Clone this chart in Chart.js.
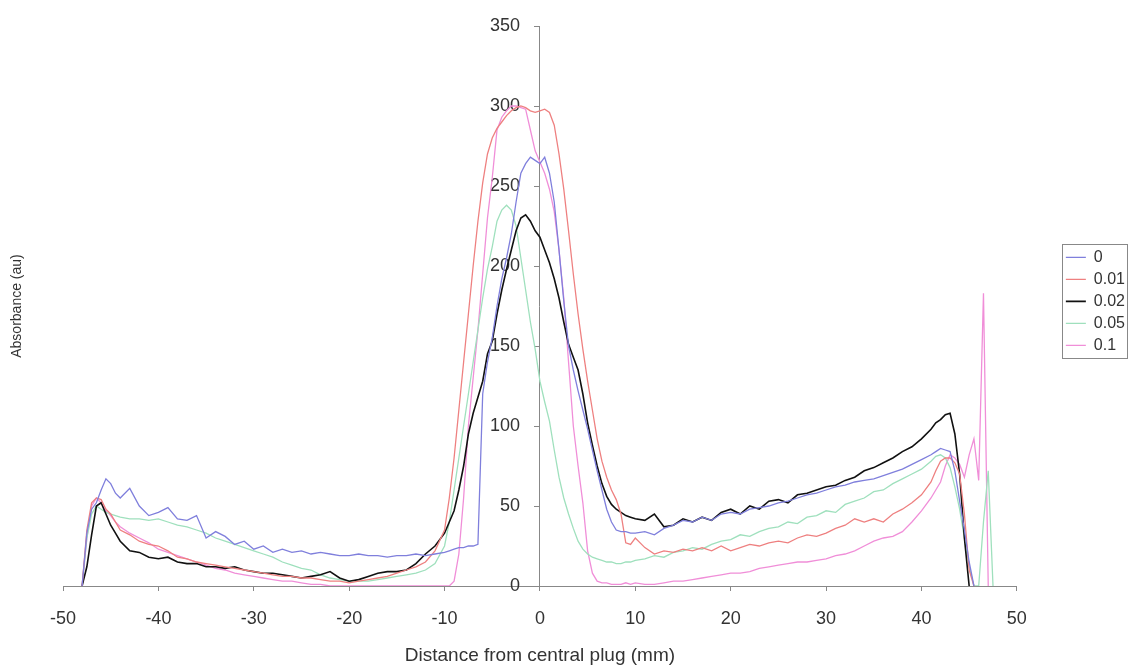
<!DOCTYPE html>
<html>
<head>
<meta charset="utf-8">
<title>Absorbance profile</title>
<script src="https://cdn.jsdelivr.net/npm/chart.js@4/dist/chart.umd.min.js"></script>
<style>
  body { margin: 0; background: #fff; }
  #wrap { width: 1135px; height: 668px; }
</style>
</head>
<body>
<div id="wrap"><canvas id="absChart" width="1135" height="668"></canvas></div>
<script>
// distance from central plug (mm) - finer steps near the edges and the central peak
const xs = [-48, -47.5, -47, -46.5, -46, -45.5, -45, -44.5, -44,
  -43, -42, -41, -40, -39, -38, -37, -36, -35, -34, -33, -32, -31, -30, -29, -28, -27, -26, -25, -24, -23, -22, -21, -20, -19, -18, -17, -16, -15, -14, -13, -12, -11,
  -10, -9.5, -9, -8.5, -8, -7.5, -7, -6.5, -6, -5.5, -5, -4.5, -4, -3.5, -3, -2.5, -2, -1.5, -1, -0.5, 0, 0.5, 1, 1.5, 2, 2.5, 3, 3.5, 4, 4.5, 5, 5.5, 6, 6.5, 7, 7.5, 8, 8.5, 9, 9.5, 10,
  11, 12, 13, 14, 15, 16, 17, 18, 19, 20, 21, 22, 23, 24, 25, 26, 27, 28, 29, 30, 31, 32, 33, 34, 35, 36, 37, 38, 39, 40, 41,
  41.5, 42, 42.5, 43, 43.5, 44, 44.5, 45, 45.5, 46, 46.5, 47, 47.5, 48];

const seriesNames = ['0', '0.01', '0.02', '0.05', '0.1'];

const abs0 = [0, 33, 48, 52, 60, 67, 64, 58, 55,
  61, 50, 44, 46, 49, 42, 41, 44, 30, 34, 31, 26, 28, 23, 25, 21, 23, 21, 22, 20, 21, 20, 19, 19, 20, 19, 19, 18, 19, 19, 20, 19, 20,
  21, 22, 23, 24, 24, 25, 25, 26, 120, 140, 155, 175, 192, 205, 220, 240, 258, 264, 268, 266, 264, 268, 258, 240, 210, 178, 150, 135, 122, 110, 98, 85, 72, 60, 48, 40, 35, 34, 34, 33, 33,
  34, 32, 36, 38, 41, 40, 43, 41, 45, 46, 45, 48, 49, 50, 52, 53, 55, 57, 58, 60, 62, 63, 65, 66, 67, 69, 71, 73, 76, 79, 82,
  84, 86, 85, 84, 72, 53, 35, 15, 0, null, null, null, null, null];

const abs001 = [0, 35, 52, 55, 54, 48, 45, 40, 35,
  32, 28, 26, 25, 22, 18, 17, 15, 14, 13, 12, 11, 10, 9, 8, 7, 6, 6, 5, 5, 4, 3, 3, 2, 3, 4, 5, 6, 8, 10, 12, 15, 22,
  35, 55, 80, 110, 140, 170, 200, 228, 252, 270, 280, 286, 290, 294, 297, 299, 300, 299, 297, 296, 297, 298, 296, 288, 270, 248, 222, 195, 170, 148, 128, 110, 92, 78, 68, 60, 54, 45, 27, 26, 30,
  24, 20, 22, 21, 23, 22, 24, 22, 25, 22, 24, 26, 25, 27, 28, 27, 30, 32, 31, 33, 36, 38, 42, 40, 42, 40, 45, 48, 52, 57, 65,
  72, 78, 80, 80, 77, 70, 45, 10, 0, null, null, null, null, null];

const abs002 = [0, 12, 32, 50, 52, 45, 38, 33, 28,
  22, 21, 18, 17, 18, 15, 14, 14, 12, 12, 11, 12, 10, 9, 8, 8, 7, 6, 5, 6, 7, 9, 5, 3, 4, 6, 8, 9, 9, 10, 14, 20, 25,
  33, 40, 47, 60, 75, 95, 108, 118, 128, 145, 153, 170, 185, 198, 210, 222, 230, 232, 228, 222, 218, 210, 202, 192, 180, 165, 151, 143, 135, 120, 102, 88, 75, 64, 56, 51, 48, 46, 44, 43, 42,
  41, 45, 37, 38, 42, 40, 43, 41, 46, 48, 45, 50, 48, 53, 54, 52, 57, 58, 60, 62, 63, 66, 68, 72, 74, 77, 80, 84, 87, 92, 98,
  102, 104, 107, 108, 95, 70, 30, 0, null, null, null, null, null, null];

const abs005 = [0, 30, 45, 50, 48, 46, 45, 44, 43,
  42, 42, 41, 42, 40, 38, 37, 35, 33, 30, 28, 26, 24, 22, 20, 18, 15, 13, 11, 10, 7, 5, 4, 3, 3, 3, 4, 5, 6, 7, 8, 10, 14,
  25, 40, 60, 80, 100, 120, 140, 160, 180, 198, 212, 228, 235, 238, 235, 225, 205, 185, 165, 148, 128, 115, 103, 85, 68, 55, 45, 36, 28, 23, 20, 18, 17, 16, 15, 15, 14, 14, 15, 15, 16,
  17, 19, 18, 21, 22, 24, 23, 26, 28, 29, 32, 31, 34, 36, 37, 40, 39, 43, 44, 47, 46, 51, 53, 55, 59, 60, 64, 67, 70, 73, 78,
  81, 82, 80, 74, 62, 48, 30, 12, 0, 0, 40, 72, 0, null];

const abs01 = [0, 30, 50, 55, 52, 47, 44, 40, 37,
  33, 30, 27, 23, 21, 19, 17, 15, 13, 11, 10, 8, 7, 6, 5, 4, 3, 3, 2, 1, 1, 0, 0, 0, 0, 0, 0, 0, 0, 0, 0, 0, 0,
  0, 0, 3, 20, 55, 100, 130, 160, 195, 230, 255, 285, 293, 297, 300, 300, 299, 298, 285, 272, 265, 258, 248, 234, 210, 180, 140, 100, 75, 52, 22, 8, 3, 2, 2, 1, 1, 1, 2, 1, 2,
  1, 1, 2, 3, 3, 4, 5, 6, 7, 8, 8, 9, 11, 12, 13, 14, 15, 15, 16, 17, 19, 20, 22, 25, 28, 30, 31, 34, 40, 47, 55,
  60, 65, 75, 82, 80, 76, 68, 82, 92, 66, 183, 0, null, null];

const seriesValues = [abs0, abs001, abs002, abs005, abs01];
const seriesColors = ['#7f7fdc', '#ee8080', '#111111', '#9fe0bd', '#f08ed8'];

const FONT = 'Liberation Sans, Arial, sans-serif';
const TXT = '#333';

function toPoints(ys) {
  return xs.map((x, i) => ({ x: x, y: ys[i] }));
}

// box around the legend, like the old spreadsheet style
const legendBorder = {
  id: 'legendBorder',
  afterDraw(chart) {
    const boxes = chart.legend.legendHitBoxes;
    if (!boxes || !boxes.length) return;
    let l = Infinity, t = Infinity, r = -Infinity, b = -Infinity;
    boxes.forEach(h => {
      l = Math.min(l, h.left); t = Math.min(t, h.top);
      r = Math.max(r, h.left + h.width); b = Math.max(b, h.top + h.height);
    });
    const ctx = chart.ctx;
    ctx.save();
    ctx.strokeStyle = '#888';
    ctx.lineWidth = 1;
    ctx.strokeRect(Math.round(l - 4) + 0.5, Math.round(t - 5) + 0.5, Math.round(r - l + 6), Math.round(b - t + 10));
    ctx.restore();
  }
};

const ctx = document.getElementById('absChart').getContext('2d');
new Chart(ctx, {
  type: 'line',
  data: {
    datasets: seriesNames.map((name, i) => ({
      label: name,
      data: toPoints(seriesValues[i]),
      borderColor: seriesColors[i],
      backgroundColor: seriesColors[i],
      borderWidth: i === 2 ? 1.6 : 1.3,
      pointRadius: 0,
      tension: 0,
      fill: false,
      spanGaps: false
    }))
  },
  options: {
    responsive: false,
    devicePixelRatio: 1,
    animation: false,
    events: [],
    layout: { padding: { top: 26, right: 0, left: 0, bottom: 0 } },
    plugins: {
      legend: {
        position: 'right',
        fullSize: false,
        align: 'start',
        // empty title only used to push the items down to mid height
        title: { display: true, text: '', font: { size: 12 }, padding: { top: 203, bottom: 0 } },
        labels: {
          usePointStyle: true,
          pointStyle: 'line',
          pointStyleWidth: 20,
          padding: 6,
          color: TXT,
          font: { family: FONT, size: 16 }
        }
      },
      tooltip: { enabled: false }
    },
    scales: {
      x: {
        type: 'linear',
        min: -50,
        max: 50,
        ticks: { stepSize: 10, color: TXT, padding: 17, font: { family: FONT, size: 18 } },
        grid: { display: true, drawOnChartArea: false, drawTicks: true, tickLength: 5, color: '#888' },
        border: { display: true, color: '#888', width: 1 },
        title: { display: true, text: 'Distance from central plug (mm)', color: TXT, font: { family: FONT, size: 19 }, padding: { top: 4, bottom: 1 } },
        afterFit(scale) { scale.height = 82; }
      },
      y: {
        type: 'linear',
        position: { x: 0 },
        min: 0,
        max: 350,
        ticks: {
          stepSize: 50,
          color: TXT,
          font: { family: FONT, size: 18 },
          // labels sit right on the centre axis otherwise, so pad them with spaces
          callback: v => v + '    '
        },
        grid: { display: true, drawOnChartArea: false, drawTicks: true, tickLength: 5, color: '#888' },
        border: { display: true, color: '#888', width: 1 }
      },
      yTitle: {
        type: 'linear',
        position: 'left',
        min: 0,
        max: 350,
        ticks: { display: false },
        grid: { display: false },
        border: { display: false },
        title: { display: true, text: 'Absorbance (au)', color: TXT, font: { family: FONT, size: 14 }, padding: { top: 9, bottom: 0 } },
        afterFit(scale) { scale.width = 63; }
      },
      yGap: {
        type: 'linear',
        position: 'right',
        min: 0,
        max: 350,
        display: true,
        ticks: { display: false },
        grid: { display: false },
        border: { display: false },
        afterFit(scale) { scale.width = 43; }
      }
    }
  },
  plugins: [legendBorder]
});
</script>
</body>
</html>
